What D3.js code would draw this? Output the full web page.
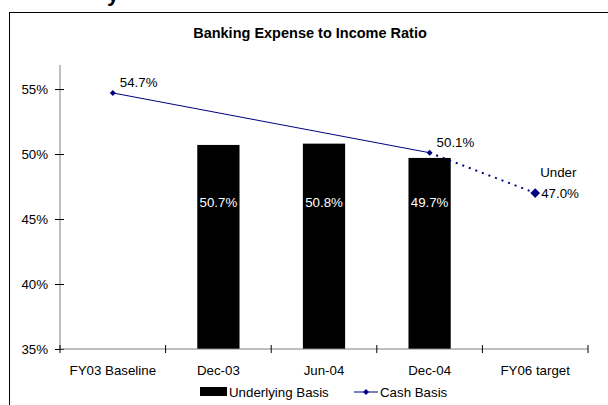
<!DOCTYPE html>
<html>
<head>
<meta charset="utf-8">
<script src="https://cdn.jsdelivr.net/npm/d3@7"></script>
<style>
  body { margin: 0; background: #fff; }
  svg { font-family: "Liberation Sans", Arial, sans-serif; }
</style>
</head>
<body>
<div id="chart"></div>
<script>
// Chart data
let categories = ["FY03 Baseline", "Dec-03", "Jun-04", "Dec-04", "FY06 target"];
let underlyingCats = ["Dec-03", "Jun-04", "Dec-04"];
let underlyingValues = [50.7, 50.8, 49.7];
let cashCats = ["FY03 Baseline", "Dec-04"];
let cashValues = [54.7, 50.1];
let targetCat = "FY06 target";
let targetValue = 47.0;
let yTicks = [35, 40, 45, 50, 55];

let width = 608, height = 405;

let svg = d3.select("#chart").append("svg")
    .attr("width", width)
    .attr("height", height);

// Cut-off slide heading descender at the top
svg.append("text")
    .attr("x", 107)
    .attr("y", 1)
    .attr("font-size", 22)
    .attr("font-weight", "bold")
    .text("y");

// Outer frame
svg.append("rect")
    .attr("x", 9.5).attr("y", 12.5)
    .attr("width", 620).attr("height", 420)
    .attr("fill", "none")
    .attr("stroke", "#000")
    .attr("stroke-width", 1);

// Title
svg.append("text")
    .attr("x", 310)
    .attr("y", 38)
    .attr("text-anchor", "middle")
    .attr("font-size", 14.5)
    .attr("font-weight", "bold")
    .text("Banking Expense to Income Ratio");

let x = d3.scaleBand()
    .domain(categories)
    .range([60, 588]);

let y = d3.scaleLinear()
    .domain([35, 56.85])
    .range([349, 65]);

let g = svg.append("g");

// Bars
g.selectAll(".bar")
    .data(underlyingValues)
    .enter()
    .append("rect")
    .attr("x", (d, i) => x(underlyingCats[i]) + x.bandwidth() * 0.3)
    .attr("width", x.bandwidth() * 0.4)
    .attr("y", d => y(d))
    .attr("height", d => y(35) - y(d))
    .attr("fill", "#000");

g.selectAll(".bar-label")
    .data(underlyingValues)
    .enter()
    .append("text")
    .attr("x", (d, i) => x(underlyingCats[i]) + x.bandwidth() / 2)
    .attr("y", y(46.3) + 5)
    .attr("text-anchor", "middle")
    .attr("font-size", 13.3)
    .attr("fill", "#fff")
    .text(d => d.toFixed(1) + "%");

// Y axis
let yAxis = d3.axisLeft(y)
    .tickValues(yTicks)
    .tickSize(4)
    .tickFormat(d => d + "%");
let ya = svg.append("g")
    .attr("transform", "translate(60,0)")
    .call(yAxis);
ya.select(".domain").attr("stroke", "#808080").attr("d", "M0," + y(56.85) + "V" + y(35));
ya.selectAll(".tick line").attr("x1", 4).attr("x2", -5).attr("stroke", "#000");
ya.selectAll(".tick text")
    .attr("x", -12)
    .attr("font-size", 13.3)
    .attr("font-family", "Liberation Sans, Arial, sans-serif")
    .attr("fill", "#000");

// X axis
let xa = svg.append("g")
    .attr("transform", "translate(0," + y(35) + ")");
xa.append("line")
    .attr("x1", 60).attr("x2", 588)
    .attr("stroke", "#808080");
let bounds = categories.map(c => x(c)).concat([588]);
xa.selectAll(".xt")
    .data(bounds)
    .enter()
    .append("line")
    .attr("x1", d => d).attr("x2", d => d)
    .attr("y1", -4).attr("y2", 4)
    .attr("stroke", "#000");
xa.selectAll(".xl")
    .data(categories)
    .enter()
    .append("text")
    .attr("x", d => x(d) + x.bandwidth() / 2)
    .attr("y", 26)
    .attr("text-anchor", "middle")
    .attr("font-size", 13.3)
    .text(d => d);

// Cash basis line
let cashPts = cashCats.map((c, i) => [x(c) + x.bandwidth() / 2, y(cashValues[i])]);
svg.append("path")
    .attr("d", d3.line()(cashPts))
    .attr("fill", "none")
    .attr("stroke", "#000080")
    .attr("stroke-width", 1);

let targetPt = [x(targetCat) + x.bandwidth() / 2, y(targetValue)];
svg.append("path")
    .attr("d", d3.line()([cashPts[1], targetPt]))
    .attr("fill", "none")
    .attr("stroke", "#000080")
    .attr("stroke-width", 2)
    .attr("stroke-dasharray", "2,5");

let smallDiamond = d3.symbol().type(d3.symbolDiamond2).size(22);
svg.selectAll(".cash-pt")
    .data(cashPts)
    .enter()
    .append("path")
    .attr("transform", d => "translate(" + d[0] + "," + d[1] + ")")
    .attr("d", smallDiamond)
    .attr("fill", "#000080");

svg.append("path")
    .attr("transform", "translate(" + targetPt[0] + "," + targetPt[1] + ")")
    .attr("d", d3.symbol().type(d3.symbolDiamond2).size(60))
    .attr("fill", "#000080");

// Line labels
svg.selectAll(".cash-label")
    .data(cashValues)
    .enter()
    .append("text")
    .attr("x", (d, i) => cashPts[i][0] + 7)
    .attr("y", (d, i) => cashPts[i][1] - 6)
    .attr("font-size", 13.3)
    .text(d => d.toFixed(1) + "%");

svg.append("text")
    .attr("x", targetPt[0] + 6)
    .attr("y", targetPt[1] + 5)
    .attr("font-size", 13.3)
    .text(targetValue.toFixed(1) + "%");
svg.append("text")
    .attr("x", targetPt[0] + 5)
    .attr("y", targetPt[1] - 16)
    .attr("font-size", 13.3)
    .text("Under");

// Legend
let legend = svg.append("g").attr("transform", "translate(0,392)");
legend.append("rect")
    .attr("x", 200).attr("y", -5)
    .attr("width", 27).attr("height", 9)
    .attr("fill", "#000");
legend.append("text")
    .attr("x", 229).attr("y", 5)
    .attr("font-size", 13.3)
    .text("Underlying Basis");
legend.append("line")
    .attr("x1", 354).attr("x2", 378)
    .attr("y1", 0).attr("y2", 0)
    .attr("stroke", "#000080");
legend.append("path")
    .attr("transform", "translate(366,0)")
    .attr("d", smallDiamond)
    .attr("fill", "#000080");
legend.append("text")
    .attr("x", 380).attr("y", 5)
    .attr("font-size", 13.3)
    .text("Cash Basis");
</script>
</body>
</html>
